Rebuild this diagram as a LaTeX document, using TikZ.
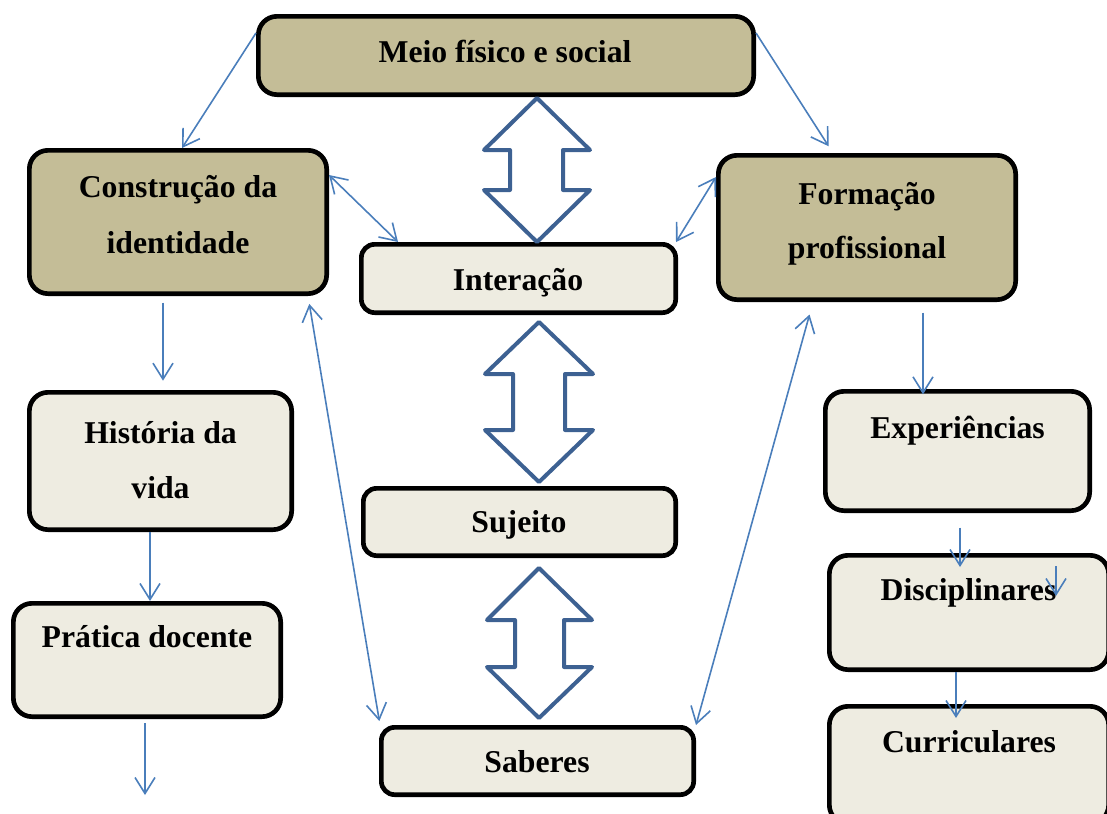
\documentclass[tikz,border=0pt]{standalone}
\usepackage{fontspec}
\setmainfont{Liberation Serif}
\usetikzlibrary{arrows.meta}
\definecolor{tanfill}{HTML}{C4BD97}
\definecolor{lightfill}{HTML}{EEECE1}
\definecolor{connblue}{HTML}{4A7EBB}
\definecolor{dblblue}{HTML}{3D6192}
\begin{document}
\begin{tikzpicture}[x=0.75pt,y=-0.75pt,
  box/.style={draw=black, line width=3.5pt, rounded corners=14pt, inner sep=0pt, outer sep=1.75pt},
  tanbox/.style={box, fill=tanfill},
  lightbox/.style={box, fill=lightfill},
  barbox/.style={lightbox, rounded corners=10pt},
  lbl/.style={anchor=base, inner sep=0pt, font=\fontsize{23.8}{28}\selectfont\bfseries},
  conn/.style={draw=connblue, line width=1.2pt, arrows={-Straight Barb[length=12pt,width=15pt]}},
  bconn/.style={draw=connblue, line width=1.2pt, arrows={Straight Barb[length=12pt,width=15pt]-Straight Barb[length=12pt,width=15pt]}},
  dbl/.style={draw=dblblue, line width=3pt, line join=round, fill=white}]
\useasboundingbox (0,0) rectangle (1107,814);
\clip (0,0) rectangle (1107,814);

% boxes
\node[tanbox, minimum width=371.5pt, minimum height=58.75pt] (meio) at (506,55.5) {};
\node[tanbox, minimum width=223pt, minimum height=107.5pt] (constr) at (178,222) {};
\node[barbox, minimum width=235.75pt, minimum height=51.25pt] (inter) at (518.5,278.5) {};
\node[tanbox, minimum width=223pt, minimum height=108.25pt] (form) at (867,227.5) {};
\node[lightbox, minimum width=196.75pt, minimum height=103pt] (hist) at (160.5,461) {};
\node[lightbox, minimum width=200.5pt, minimum height=85pt] (prat) at (147,660) {};
\node[barbox, minimum width=234.25pt, minimum height=50.5pt] (suj) at (519.5,522) {};
\node[barbox, minimum width=234.25pt, minimum height=50.5pt] (sab) at (537.5,761) {};
\node[lightbox, minimum width=198.25pt, minimum height=89.5pt] (exp) at (957.5,451) {};
\node[lightbox, minimum width=209.5pt, minimum height=85.75pt] (disc) at (969,612.5) {};
\node[lightbox, minimum width=209.5pt, minimum height=88pt] (curr) at (969,765) {};

% texts
\node[lbl] (tmeio) at (505,62) {Meio físico e social};
\node[lbl] (tconstr1) at (178,197) {Construção da};
\node[lbl] (tconstr2) at (178,253) {identidade};
\node[lbl] (tinter) at (518,290) {Interação};
\node[lbl] (tform1) at (867,204) {Formação};
\node[lbl] (tform2) at (867,258) {profissional};
\node[lbl] (thist1) at (160.5,443) {História da};
\node[lbl] (thist2) at (160.5,498) {vida};
\node[lbl] (tprat) at (147,647) {Prática docente};
\node[lbl] (tsuj) at (519,532) {Sujeito};
\node[lbl] (tsab) at (537,772) {Saberes};
\node[lbl] (texp) at (957.5,438) {Experiências};
\node[lbl] (tdisc) at (968.5,600) {Disciplinares};
\node[lbl] (tcurr) at (969,752) {Curriculares};

% big double arrows
\draw[dbl] (537,98) -- (590,150) -- (563,150) -- (563,190) -- (590,190) -- (537,242)
  -- (484,190) -- (510,190) -- (510,150) -- (484,150) -- cycle;
\draw[dbl] (539,322) -- (593,374) -- (565,374) -- (565,430) -- (593,430) -- (539,482)
  -- (485,430) -- (513,430) -- (513,374) -- (485,374) -- cycle;
\draw[dbl] (539,568) -- (592,620) -- (564,620) -- (564,667) -- (592,667) -- (539,718)
  -- (487,667) -- (515,667) -- (515,620) -- (487,620) -- cycle;

% thin connectors
\draw[conn] (meio.west |- 0,33) -- (constr.north -| 182,0);
\draw[conn, shorten >=6pt] (meio.east |- 0,33) -- (form.north -| 833,0);
\draw[bconn] (constr.east |- 0,175) -- (inter.north -| 398,0);
\draw[bconn] (form.west |- 0,177) -- (inter.north -| 676,0);
\draw[conn, shorten <=5pt, shorten >=7pt] (constr.south -| 163,0) -- (hist.north -| 163,0);
\draw[bconn, shorten <=6pt, shorten >=3pt] (constr.south -| 308,0) -- (sab.north -| 380,0);
\draw[bconn, shorten <=9.75pt] (form.south -| 813,0) -- (sab.north east);
\draw[conn, shorten <=8pt, shorten >=-4pt] (form.south -| 923,0) -- (exp.north -| 923,0);
\draw[conn] (hist.south -| 150,0) -- (prat.north -| 150,0);
\coordinate (pratend) at (145,795);
\draw[conn, shorten <=3pt] (prat.south -| 145,0) -- (pratend);
\draw[conn, shorten <=11pt, shorten >=-10.5pt] (exp.south -| 960,0) -- (disc.north -| 960,0);
\coordinate (xa) at (1056,566);
\coordinate (xb) at (1056,596);
\draw[conn] (xa) -- (xb);
\draw[conn, shorten >=-10.5pt] (disc.south -| 956,0) -- (curr.north -| 956,0);
\end{tikzpicture}
\end{document}
